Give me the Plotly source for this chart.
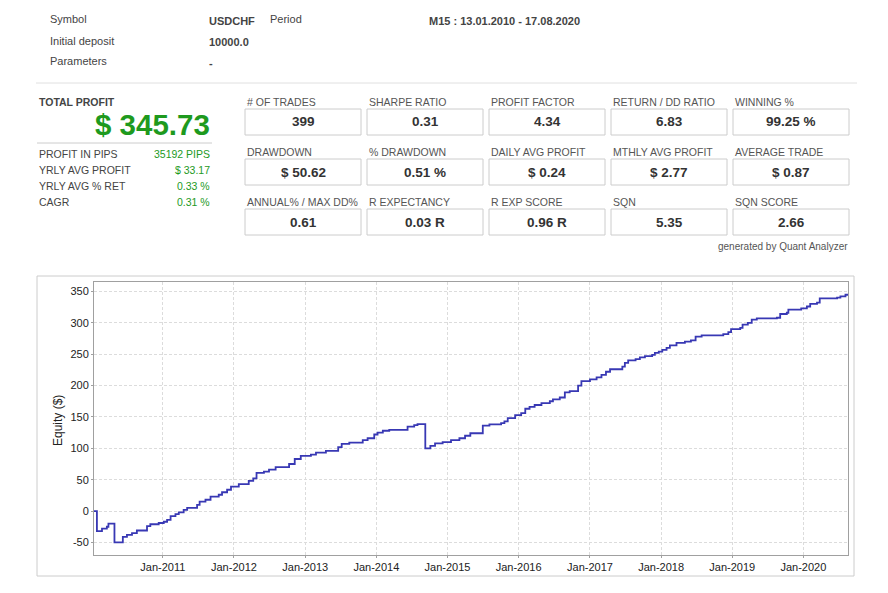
import plotly.graph_objects as go

W, H = 888, 593

# ---------------- data ----------------
equity_dates = [
    "2010-01-13", "2010-01-28", "2010-02-23", "2010-03-20", "2010-03-28", "2010-04-28",
    "2010-06-10", "2010-07-01", "2010-07-27", "2010-08-21", "2010-10-12", "2010-10-29",
    "2010-12-11", "2011-01-06", "2011-01-23", "2011-02-10", "2011-03-07", "2011-03-24",
    "2011-04-18", "2011-05-06", "2011-06-26", "2011-07-09", "2011-08-08", "2011-09-03",
    "2011-10-15", "2011-11-01", "2011-11-27", "2011-12-17", "2012-01-26", "2012-03-17",
    "2012-04-09", "2012-04-26", "2012-06-03", "2012-06-29", "2012-08-02", "2012-10-10",
    "2012-11-08", "2012-12-09", "2013-01-30", "2013-02-25", "2013-04-17", "2013-06-19",
    "2013-07-07", "2013-08-15", "2013-10-23", "2013-11-17", "2013-12-21", "2014-01-07",
    "2014-02-03", "2014-03-08", "2014-06-10", "2014-07-14", "2014-07-31", "2014-09-09",
    "2014-10-05", "2014-10-29", "2014-12-07", "2015-01-19", "2015-03-03", "2015-04-01",
    "2015-04-28", "2015-07-01", "2015-08-04", "2015-10-03", "2015-10-20", "2015-11-06",
    "2015-12-14", "2016-01-14", "2016-02-04", "2016-02-26", "2016-03-23", "2016-04-27",
    "2016-06-09", "2016-06-25", "2016-07-30", "2016-08-25", "2016-09-19", "2016-11-01",
    "2016-11-18", "2017-01-01", "2017-02-04", "2017-03-01", "2017-03-24", "2017-04-14",
    "2017-06-16", "2017-06-29", "2017-07-16", "2017-08-23", "2017-09-14", "2017-10-10",
    "2017-11-16", "2017-11-30", "2017-12-20", "2018-01-07", "2018-01-29", "2018-02-15",
    "2018-03-21", "2018-05-03", "2018-06-03", "2018-06-27", "2018-07-28", "2018-11-16",
    "2018-12-12", "2018-12-26", "2019-02-11", "2019-02-23", "2019-03-22", "2019-04-11",
    "2019-05-07", "2019-08-18", "2019-09-04", "2019-10-08", "2019-10-16", "2019-12-21",
    "2020-01-19", "2020-02-05", "2020-03-11", "2020-03-25", "2020-06-22", "2020-07-09",
    "2020-08-04", "2020-08-17",
]
equity_values = [
    0, -32, -28, -25, -20, -50,
    -41, -38, -35, -31, -24, -21,
    -19, -17, -14, -8, -5, -2,
    2, 5, 10, 15, 18, 23,
    26, 30, 34, 39, 43, 48,
    52, 61, 63, 66, 70, 75,
    83, 88, 90, 93, 96, 102,
    107, 109, 113, 116, 122, 125,
    128, 129.5, 134.5, 137, 138.5, 100,
    104, 108, 110, 113, 116, 120,
    124, 136, 138, 140, 143, 148,
    153, 156, 163, 166, 169, 172,
    175, 178, 181, 189, 191, 200,
    207, 210, 213, 217, 222, 226,
    230, 236, 240, 242, 245, 247,
    249, 252, 254, 257, 260, 264,
    268, 270, 272, 278, 280, 282,
    285, 290, 292, 297, 300, 305,
    307, 308, 314, 316, 321, 323,
    326, 330, 332, 339, 340, 342,
    344.7, 345.73,
]

y_tick_values = [-50, 0, 50, 100, 150, 200, 250, 300, 350]
y_tick_labels = ["-50", "0", "50", "100", "150", "200", "250", "300", "350"]

header_labels = ["Symbol", "Initial deposit", "Parameters"]
header_values = ["USDCHF", "10000.0", "-"]
period_label = "Period"
period_value = "M15 : 13.01.2010 - 17.08.2020"

total_profit_label = "TOTAL PROFIT"
total_profit_value = "$ 345.73"
side_labels = ["PROFIT IN PIPS", "YRLY AVG PROFIT", "YRLY AVG % RET", "CAGR"]
side_values = ["35192 PIPS", "$ 33.17", "0.33 %", "0.31 %"]

grid_labels = [
    ["# OF TRADES", "SHARPE RATIO", "PROFIT FACTOR", "RETURN / DD RATIO", "WINNING %"],
    ["DRAWDOWN", "% DRAWDOWN", "DAILY AVG PROFIT", "MTHLY AVG PROFIT", "AVERAGE TRADE"],
    ["ANNUAL% / MAX DD%", "R EXPECTANCY", "R EXP SCORE", "SQN", "SQN SCORE"],
]
grid_values = [
    ["399", "0.31", "4.34", "6.83", "99.25 %"],
    ["$ 50.62", "0.51 %", "$ 0.24", "$ 2.77", "$ 0.87"],
    ["0.61", "0.03 R", "0.96 R", "5.35", "2.66"],
]
footer_note = "generated by Quant Analyzer"
y_title = "Equity ($)"

# ---------------- helpers ----------------
def X(px):
    return px / W

def Y(py):
    return 1 - py / H

FONT = "Liberation Sans, Arial, sans-serif"
GREEN = "#1e9a1e"
annotations = []
shapes = []

def text(x, y, s, size=11, color="#444", bold=False, anchor="left"):
    annotations.append(dict(
        x=X(x), y=Y(y), xref="paper", yref="paper", showarrow=False,
        text=f"<b>{s}</b>" if bold else s, xanchor=anchor, yanchor="middle",
        font=dict(family=FONT, size=size, color=color)))

def rect(x0, y0, x1, y1, color="#cccccc", width=1):
    shapes.append(dict(type="rect", xref="paper", yref="paper",
                       x0=X(x0), y0=Y(y0), x1=X(x1), y1=Y(y1),
                       line=dict(color=color, width=width), fillcolor="rgba(0,0,0,0)"))

def hline(x0, x1, y, color="#dddddd", width=1):
    shapes.append(dict(type="line", xref="paper", yref="paper",
                       x0=X(x0), y0=Y(y), x1=X(x1), y1=Y(y),
                       line=dict(color=color, width=width)))

# header
for i, (lab, val) in enumerate(zip(header_labels, header_values)):
    yy = 19.5 + i * 21
    text(48, yy, lab, size=11, color="#444")
    text(207, yy + 1.5, val, size=11, color="#444", bold=True)
text(268, 19.5, period_label, size=11, color="#444")
text(427, 21, period_value, size=11, color="#444", bold=True)
hline(36, 857, 83, color="#e0e0e0")

# left block
text(37, 102, total_profit_label, size=10.5, color="#444", bold=True)
text(212, 125, total_profit_value, size=29.5, color=GREEN, bold=True, anchor="right")
hline(37, 212, 143, color="#cccccc")
for i, (lab, val) in enumerate(zip(side_labels, side_values)):
    yy = 154 + i * 16
    text(37, yy, lab, size=10.5, color="#444")
    text(212, yy, val, size=10.5, color=GREEN, anchor="right")

# stats grid
for r in range(3):
    for c in range(5):
        x0 = 245 + c * 122
        ly = 102 + r * 50
        text(x0, ly, grid_labels[r][c], size=10.5, color="#555")
        rect(x0, ly + 7, x0 + 116, ly + 33, color="#cccccc")
        text(x0 + 58, ly + 20, grid_values[r][c], size=13.5, color="#333", bold=True, anchor="center")
text(850, 246, footer_note, size=10, color="#555", anchor="right")

# chart outer box
rect(37, 276, 854, 576, color="#cccccc")

# y axis title
annotations.append(dict(x=X(58), y=Y(421), xref="paper", yref="paper", showarrow=False,
                        text=y_title, textangle=-90, xanchor="center", yanchor="middle",
                        font=dict(family=FONT, size=12, color="#222")))

fig = go.Figure()
fig.add_trace(go.Scatter(x=equity_dates, y=equity_values, mode="lines",
                         line=dict(color="#3838b4", width=1.8, shape="hv"),
                         hoverinfo="x+y", showlegend=False))

fig.update_layout(
    width=W, height=H, margin=dict(l=0, r=0, t=0, b=0),
    paper_bgcolor="white", plot_bgcolor="white",
    annotations=annotations, shapes=shapes, showlegend=False,
    xaxis=dict(domain=[X(94), X(848)], type="date",
               range=["2010-01-13", "2020-08-17"],
               tick0="2011-01-01", dtick="M12", tickformat="%b-%Y",
               showgrid=True, gridcolor="#dcdcdc", griddash="3px,2px", gridwidth=1,
               showline=True, linecolor="#a0a0a0", linewidth=1, mirror=True,
               ticks="outside", ticklen=2, tickcolor="#a0a0a0",
               zeroline=False,
               tickfont=dict(family=FONT, size=11, color="#222")),
    yaxis=dict(domain=[Y(555), Y(282)], range=[-70, 365],
               tickmode="array", tickvals=y_tick_values, ticktext=y_tick_labels,
               showgrid=True, gridcolor="#dcdcdc", griddash="3px,2px", gridwidth=1,
               showline=True, linecolor="#a0a0a0", linewidth=1, mirror=True,
               ticks="outside", ticklen=2, tickcolor="#a0a0a0",
               zeroline=False,
               tickfont=dict(family=FONT, size=11, color="#222")),
)

fig.write_html("out.html")
